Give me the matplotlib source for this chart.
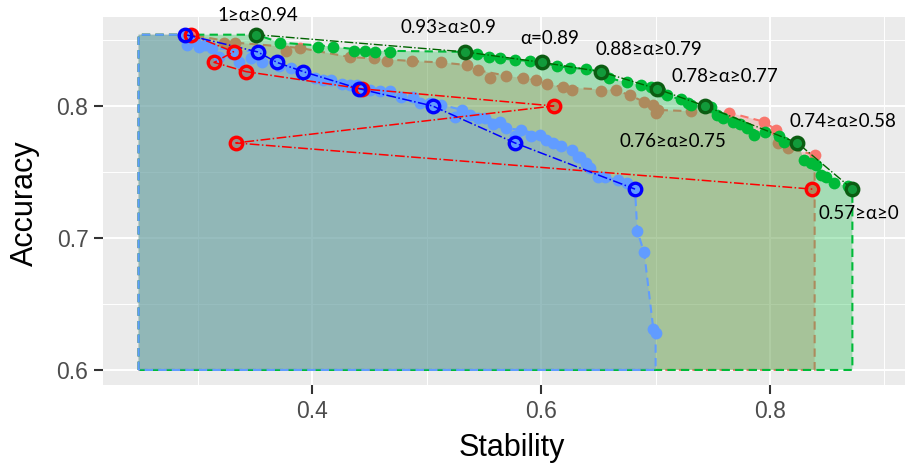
import matplotlib
matplotlib.use("Agg")
import matplotlib.pyplot as plt
from matplotlib.patches import Polygon

# ---- data -------------------------------------------------------------
# selected models per alpha range (shared accuracy, method-specific stability)
acc_sel = [0.854, 0.841, 0.833, 0.826, 0.813, 0.800, 0.772, 0.737]
stab_sel_blue = [0.289, 0.352, 0.369, 0.392, 0.441, 0.505, 0.577, 0.682]
stab_sel_red = [0.294, 0.331, 0.314, 0.342, 0.443, 0.611, 0.333, 0.837]
stab_sel_green = [0.351, 0.533, 0.601, 0.652, 0.701, 0.743, 0.824, 0.872]

# all candidate models for each method
stab_green = [0.372, 0.405, 0.418, 0.436, 0.446, 0.455, 0.468, 0.544, 0.554,
              0.564, 0.577, 0.590, 0.614, 0.625, 0.639, 0.659, 0.675, 0.687,
              0.696, 0.704, 0.710, 0.722, 0.728, 0.731, 0.748, 0.754, 0.759,
              0.768, 0.774, 0.780, 0.786, 0.796, 0.808, 0.812, 0.830, 0.836,
              0.840, 0.845, 0.849, 0.856, 0.868]
acc_green = [0.848, 0.845, 0.845, 0.842, 0.842, 0.841, 0.841, 0.839, 0.837,
             0.836, 0.835, 0.834, 0.830, 0.829, 0.828, 0.821, 0.818, 0.816,
             0.814, 0.811, 0.808, 0.805, 0.802, 0.801, 0.799, 0.793, 0.791,
             0.788, 0.786, 0.783, 0.778, 0.780, 0.777, 0.773, 0.759, 0.757,
             0.755, 0.748, 0.746, 0.742, 0.739]

stab_red = [0.323, 0.332, 0.377, 0.389, 0.433, 0.454, 0.465, 0.487, 0.512,
            0.535, 0.545, 0.555, 0.569, 0.584, 0.595, 0.605, 0.619, 0.627,
            0.652, 0.665, 0.678, 0.690, 0.698, 0.702, 0.700, 0.731, 0.764,
            0.795, 0.805, 0.807, 0.816, 0.839]
acc_red = [0.848, 0.848, 0.842, 0.844, 0.837, 0.836, 0.834, 0.834, 0.833,
           0.831, 0.827, 0.821, 0.823, 0.821, 0.820, 0.817, 0.814, 0.812,
           0.811, 0.812, 0.808, 0.803, 0.801, 0.797, 0.795, 0.796, 0.795,
           0.788, 0.782, 0.772, 0.768, 0.763]

stab_blue = [0.290, 0.297, 0.301, 0.306, 0.312, 0.318, 0.330, 0.336, 0.346,
             0.356, 0.371, 0.381, 0.391, 0.402, 0.409, 0.416, 0.426, 0.433,
             0.439, 0.446, 0.450, 0.459, 0.468, 0.477, 0.488, 0.494, 0.503,
             0.512, 0.525, 0.531, 0.538, 0.545, 0.551, 0.558, 0.564, 0.569,
             0.577, 0.582, 0.591, 0.599, 0.604, 0.610, 0.617, 0.627, 0.632,
             0.634, 0.639, 0.643, 0.650, 0.656, 0.667, 0.675, 0.684, 0.690,
             0.698, 0.700]
acc_blue = [0.846, 0.849, 0.845, 0.846, 0.844, 0.837, 0.839, 0.833, 0.836,
            0.833, 0.830, 0.829, 0.826, 0.821, 0.820, 0.820, 0.817, 0.816,
            0.816, 0.812, 0.812, 0.811, 0.811, 0.807, 0.807, 0.802, 0.802,
            0.801, 0.792, 0.797, 0.793, 0.791, 0.791, 0.786, 0.788, 0.783,
            0.777, 0.782, 0.777, 0.778, 0.774, 0.772, 0.770, 0.767, 0.761,
            0.761, 0.757, 0.753, 0.746, 0.746, 0.744, 0.742, 0.705, 0.689,
            0.631, 0.628]

# alpha-range annotations
label_text = ["1≥α≥0.94", "0.93≥α≥0.9", "α=0.89", "0.88≥α≥0.79",
              "0.78≥α≥0.77", "0.74≥α≥0.58", "0.76≥α≥0.75", "0.57≥α≥0"]
label_x = [0.3525, 0.5187, 0.6071, 0.6937, 0.7602, 0.8635, 0.7147, 0.8774]
label_y = [0.8689, 0.8591, 0.8508, 0.8424, 0.8220, 0.7886, 0.7727, 0.7182]

# lower-left corner of the dominated regions
region_xmin = 0.248
region_ymin = 0.600

RED, GREEN, BLUE = "#F8766D", "#00BA38", "#619CFF"


def pareto_front(xs, ys):
    """Non-dominated points (max stability, max accuracy), sorted by stability."""
    pts = sorted(zip(xs, ys), key=lambda p: (-p[0], -p[1]))
    out, best = [], -1.0
    for x, y in pts:
        if y > best:
            out.append((x, y))
            best = y
    return out[::-1]


def region(xs, ys):
    fr = pareto_front(xs, ys)
    return ([(region_xmin, region_ymin), (region_xmin, fr[0][1])] + fr
            + [(fr[-1][0], region_ymin)])


# ---- figure -----------------------------------------------------------
plt.rcParams["font.family"] = ["Liberation Sans", "DejaVu Sans"]
fig = plt.figure(figsize=(9.12, 4.69), dpi=100)
ax = fig.add_axes([103 / 912, 1 - 385 / 469, (905 - 103) / 912, (385 - 17) / 469])
ax.set_facecolor("#EBEBEB")
for s in ax.spines.values():
    s.set_visible(False)

ax.set_xlim(0.2169, 0.918)
ax.set_ylim(0.5886, 0.8674)
ax.set_xticks([0.4, 0.6, 0.8])
ax.set_xticks([0.3, 0.5, 0.7, 0.9], minor=True)
ax.set_yticks([0.6, 0.7, 0.8])
ax.set_yticks([0.65, 0.75, 0.85], minor=True)
ax.set_axisbelow(True)
ax.grid(which="major", color="white", lw=1.4)
ax.grid(which="minor", color="white", lw=0.7)
ax.tick_params(which="minor", length=0)
ax.tick_params(which="major", length=6.5, width=1.5, color="#333333",
               labelsize=16.5, labelcolor="#4D4D4D", pad=4)

PT = 72

# red method: points and region
all_red_x = stab_red + stab_sel_red
all_red_y = acc_red + acc_sel
ax.scatter(all_red_x, all_red_y, s=PT, color=RED, lw=0, zorder=1)
ax.add_patch(Polygon(region(all_red_x, all_red_y), closed=True,
                     facecolor=(0.973, 0.463, 0.427, 0.3), edgecolor=RED,
                     lw=1.5, ls=(0, (4, 2.5)), zorder=1.5))

# green method
all_green_x = stab_green + stab_sel_green
all_green_y = acc_green + acc_sel
ax.add_patch(Polygon(region(all_green_x, all_green_y), closed=True,
                     facecolor=(0.0, 0.729, 0.220, 0.3), edgecolor=GREEN,
                     lw=1.5, ls=(0, (4, 2.5)), zorder=2))
ax.scatter(all_green_x, all_green_y, s=PT, color=GREEN, lw=0, zorder=2.5)

# blue method
all_blue_x = stab_blue + stab_sel_blue
all_blue_y = acc_blue + acc_sel
ax.add_patch(Polygon(region(all_blue_x, all_blue_y), closed=True,
                     facecolor=(0.380, 0.612, 1.0, 0.3), edgecolor=BLUE,
                     lw=1.5, ls=(0, (4, 2.5)), zorder=3))
ax.scatter(all_blue_x, all_blue_y, s=PT, color=BLUE, lw=0, zorder=3.5)

# selected models, joined in alpha order
ax.plot(stab_sel_red, acc_sel, color="red", lw=1.1, ls="-.", zorder=4)
ax.plot(stab_sel_blue, acc_sel, color="blue", lw=1.1, ls="-.", zorder=4)
ax.plot(stab_sel_green, acc_sel, color="darkgreen", lw=1.0, ls="-.", zorder=4)
ax.plot(stab_sel_red, acc_sel, ls="none", marker="o", ms=9, mew=2.4,
        mfc="none", mec="red", zorder=5)
ax.plot(stab_sel_blue, acc_sel, ls="none", marker="o", ms=9, mew=2.4,
        mfc="none", mec="blue", zorder=5)
ax.plot(stab_sel_green, acc_sel, ls="none", marker="o", ms=9, mew=2.4,
        mfc="#129a3a", mec="#0b5d12", zorder=5)

for t, x, y in zip(label_text, label_x, label_y):
    ax.text(x, y, t, ha="center", va="center", fontsize=13.5,
            family=["Lato", "DejaVu Sans"], color="black", clip_on=False,
            zorder=6)

ax.set_xlabel("Stability", fontsize=22, color="black")
ax.set_ylabel("Accuracy", fontsize=22, color="black")
ax.xaxis.set_label_coords(0.51, -0.171)
ax.xaxis.label.set_va("center")
ax.yaxis.set_label_coords(-0.0973, 0.4946)
ax.yaxis.label.set_va("center")

fig.savefig("out.png", dpi=100)
